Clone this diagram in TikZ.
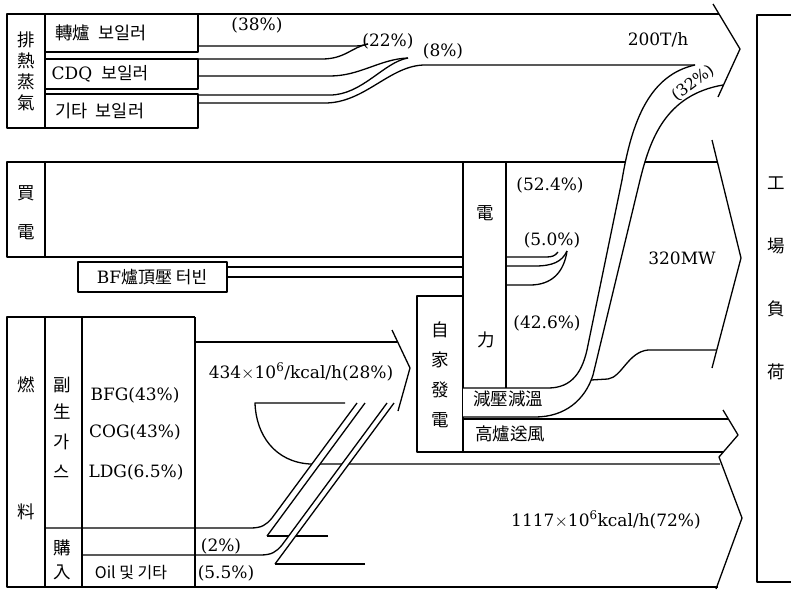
\documentclass[tikz,border=0pt]{standalone}
\usepackage{fontspec}
\setmainfont{DejaVu Serif}
\newfontfamily\kr{Noto Sans CJK KR}
\usepackage{tikz}

\begin{document}
\begin{tikzpicture}[x=1pt, y=-1pt, line width=1.3pt, line join=round,
    num/.style={font=\fontsize{17}{17}\selectfont, inner sep=0pt},
    han/.style={font=\kr\fontsize{17.5}{17.5}\selectfont, inner sep=0pt},
    band/.style={fill=white, draw=none}]
\useasboundingbox (0,0) rectangle (791,589);

% Waste heat steam
\draw (7,14) rectangle (45,128);
\draw (45,14) rectangle (198,52);
\draw (45,59) rectangle (198,89);
\draw (45,94) rectangle (198,128);
\draw (198,14) -- (719,14);
\draw (198,46) -- (352,46) .. controls (358,46) and (362,46) .. (368,44);
\draw (198,59) -- (322,59) .. controls (345,59) and (352,47) .. (368,44);
\draw (198,76) -- (330,76) .. controls (360,76) and (380,59) .. (408,58);
\draw (198,95) -- (330,95) .. controls (362,95) and (384,62) .. (408,58);
\draw (198,103) -- (325,103) .. controls (365,103) and (390,65) .. (425,65) -- (695,65);
\draw (713,4) -- (740,49) -- (718,97);

% Purchased power
\draw (7,162) rectangle (45,257);
\draw (45,162) -- (717,162);
\draw (45,257) -- (463,257);
\draw (78,262) rectangle (227,292);
\draw (227,267) -- (463,267);
\draw (227,277) -- (463,277);

% Power column
\draw (463,162) -- (463,452);
\draw (506,162) -- (506,388);
\draw (417,296) rectangle (463,452);
\draw (506,257) -- (546,257) .. controls (552,257) and (555,256) .. (558,252);
\draw (506,266) -- (535,266) .. controls (552,266) and (562,262) .. (567,251);
\draw (506,285) -- (530,285) .. controls (552,285) and (564,272) .. (567,251);
\draw (712,140) -- (741,258) -- (712,368);

% Blower
\draw (463,419) -- (728,419);
\draw (463,452) -- (723,452);
\draw (723,410) -- (738,435) -- (719,457) -- (742,518) -- (716,589);

% Plant load
\draw (791,15) -- (757,15) -- (757,582) -- (791,582);

% Fuel
\draw (7,317) rectangle (45,587);
\draw (45,317) -- (195,317);
\draw (82,317) -- (82,587);
\draw (195,317) -- (195,587);
\draw (7,587) -- (718,587);
\draw (195,342) -- (397,342);
\draw (392,330) -- (410,368) -- (398,411);
\draw (345,403) -- (255,403) .. controls (256,435) and (275,462) .. (310,464) -- (720,464);
\draw (328,536) -- (267,536);
\draw (365,564) -- (275,564);

% Bands on top
\path[band] (463,388) -- (548,388) .. controls (572,388) and (583,372) .. (588,345) -- (622,180)
  .. controls (632,120) and (650,75) .. (695,65) -- (723,85) .. controls (665,95) and (650,140) .. (640,180)
  -- (593,375) .. controls (585,400) and (565,417) .. (535,417) -- (463,417) -- cycle;
\draw (463,388) -- (548,388) .. controls (572,388) and (583,372) .. (588,345) -- (622,180)
  .. controls (632,120) and (650,75) .. (695,65);
\draw (463,417) -- (535,417) .. controls (565,417) and (585,400) .. (593,375) -- (640,180)
  .. controls (650,140) and (665,95) .. (723,85);
\draw (591,380) -- (608,379) .. controls (622,377) and (628,352) .. (648,350) -- (716,350);
\path[band] (250,528) .. controls (262,528) and (266,525) .. (272,518) -- (357,403) -- (365,403) -- (267,536) -- cycle;
\path[band] (260,555) .. controls (272,555) and (276,552) .. (282,545) -- (387,403) -- (394,403) -- (275,564) -- cycle;
\draw (45,528) -- (250,528) .. controls (262,528) and (266,525) .. (272,518) -- (357,403);
\draw (267,536) -- (365,403);
\draw (82,555) -- (260,555) .. controls (272,555) and (276,552) .. (282,545) -- (387,403);
\draw (275,564) -- (394,403);

% Labels
\foreach \c [count=\i] in {排,熱,蒸,氣} \node[han] (steam\i) at (26,19+21*\i) {\c};
\node[han] (bofboiler) at (101,33) {轉爐~~보일러};
\node[num] (cdqboiler) at (100,74) {CDQ {\kr~보일러}};
\node[han] (etcboiler) at (100,111) {기타~~보일러};
\node[num] (pct38) at (257,25) {(38\%)};
\node[num] (pct22) at (388,41) {(22\%)};
\node[num] (pct8) at (443,51) {(8\%)};
\node[num] (steamflow) at (658,40) {200T/h};
\node[num, rotate=37, font=\fontsize{16}{16}\selectfont] (pct32) at (693,83) {(32\%)};
\node[han] (buy1) at (26,193) {買};
\node[han] (buy2) at (26,232) {電};
\node[num] (trt) at (152,277) {BF{\kr 爐頂壓~터빈}};
\node[han] (pow1) at (485,213) {電};
\node[han] (pow2) at (486,340) {力};
\node[num] (pct524) at (550,185) {(52.4\%)};
\node[num] (pct50) at (552,240) {(5.0\%)};
\node[num] (pct426) at (547,323) {(42.6\%)};
\node[num] (powflow) at (682,258) {320MW};
\foreach \c [count=\i] in {自,家,發,電} \node[han] (self\i) at (440,300+30*\i) {\c};
\node[han] (reduce) at (508,399) {減壓減溫};
\node[han] (blower) at (510,434) {高爐送風};
\foreach \c [count=\i] in {工,場,負,荷} \node[han] (load\i) at (776,120+63*\i) {\c};
\node[han] (fuel1) at (26,385) {燃};
\node[han] (fuel2) at (26,512) {料};
\node[han] (by1) at (62,385) {副};
\node[han] (by2) at (62,412) {生};
\node[han] (by3) at (62,442) {가};
\node[han] (by4) at (62,472) {스};
\node[num] (bfg) at (135,395) {BFG(43\%)};
\node[num] (cog) at (135,432) {COG(43\%)};
\node[num] (ldg) at (136,472) {LDG(6.5\%)};
\node[han] (pur1) at (62,548) {購};
\node[han] (pur2) at (62,572) {入};
\node[han, font=\kr\fontsize{16}{16}\selectfont] (oil) at (131,572) {Oil 및 기타};
\node[num] (pct2) at (221,546) {(2\%)};
\node[num] (pct55) at (226,573) {(5.5\%)};
\node[num] (toself) at (301,372) {434$\times$10\textsuperscript{6}/kcal/h(28\%)};
\node[num] (toplant) at (606,520) {1117$\times$10\textsuperscript{6}kcal/h(72\%)};
\end{tikzpicture}
\end{document}
